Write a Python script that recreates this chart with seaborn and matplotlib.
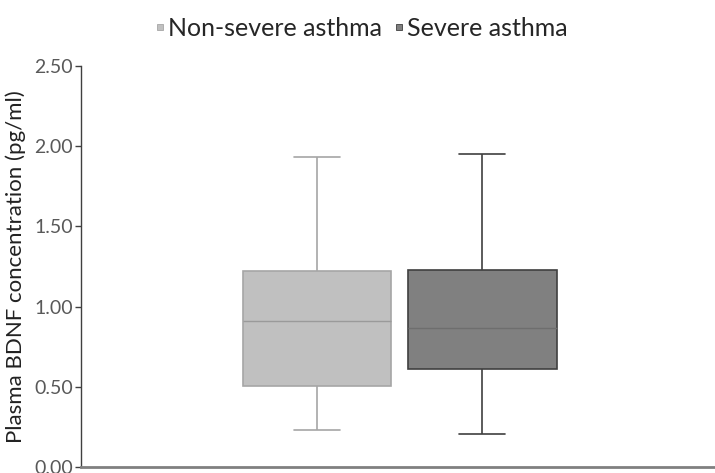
import numpy as np
import pandas as pd
import matplotlib
matplotlib.use("Agg")
import matplotlib.pyplot as plt
from matplotlib.lines import Line2D
from matplotlib.ticker import FormatStrFormatter
import seaborn as sns

# five-number summaries: min, Q1, median, Q3, max
groups = ["Non-severe asthma", "Severe asthma"]
non_severe = [0.23, 0.505, 0.91, 1.22, 1.93]
severe = [0.206, 0.611, 0.867, 1.228, 1.95]

fills = ["#c0c0c0", "#808080"]
edges = ["#a6a6a6", "#404040"]
medians = ["#9a9a9a", "#6e6e6e"]


def main():
    sns.set_style("white")
    plt.rcParams["font.family"] = ["Lato", "DejaVu Sans"]

    df = pd.DataFrame({
        "group": [groups[0]] * len(non_severe) + [groups[1]] * len(severe),
        "value": non_severe + severe,
    })

    fig = plt.figure(figsize=(7.15, 4.73), dpi=100)
    ax = fig.add_axes([81 / 715, 6 / 473, 634 / 715, 401 / 473])

    for i, g in enumerate(groups):
        sub = df[df["group"] == g]
        sns.boxplot(
            data=sub, x="group", y="value", order=groups, ax=ax,
            color=fills[i], linecolor=edges[i], linewidth=1.2,
            width=0.9, whis=(0, 100), saturation=1,
            medianprops={"color": medians[i], "linewidth": 1.0},
            boxprops={"facecolor": fills[i], "edgecolor": edges[i]},
        )

    # narrower whisker caps, as in the original
    for ln in ax.lines:
        xd = np.asarray(ln.get_xdata(), dtype=float)
        yd = np.asarray(ln.get_ydata(), dtype=float)
        if len(xd) == 2 and yd[0] == yd[1] and (xd[1] - xd[0]) < 0.6:
            mid = xd.mean()
            ln.set_xdata(mid + (xd - mid) * 0.62)

    ax.set_xlim(-1.43, 2.41)
    ax.set_ylim(0, 2.5)
    ax.set_yticks(np.arange(0, 2.51, 0.5))
    ax.yaxis.set_major_formatter(FormatStrFormatter("%.2f"))
    ax.set_xticks([])
    ax.set_xlabel("")
    ax.set_ylabel("Plasma BDNF concentration (pg/ml)", fontsize=16,
                  color="#222222", labelpad=6)
    ax.tick_params(axis="y", labelsize=14, labelcolor="#595959",
                   left=True, length=4, color="#404040", width=1, pad=2)

    for s in ["top", "right"]:
        ax.spines[s].set_visible(False)
    ax.spines["left"].set_color("#404040")
    ax.spines["left"].set_linewidth(1.0)
    ax.spines["bottom"].set_color("#808080")
    ax.spines["bottom"].set_linewidth(2.0)

    handles = [
        Line2D([], [], linestyle="none", marker="s", markersize=5,
               markerfacecolor=fills[i], markeredgecolor=edges[i],
               markeredgewidth=0.6)
        for i in range(len(groups))
    ]
    fig.legend(handles, groups, loc="center", bbox_to_anchor=(0.505, 0.94),
               ncol=2, frameon=False, fontsize=18, handlelength=0.4,
               handletextpad=0.1, columnspacing=0.5)

    fig.savefig("out.png", dpi=100)


if __name__ == "__main__":
    main()
